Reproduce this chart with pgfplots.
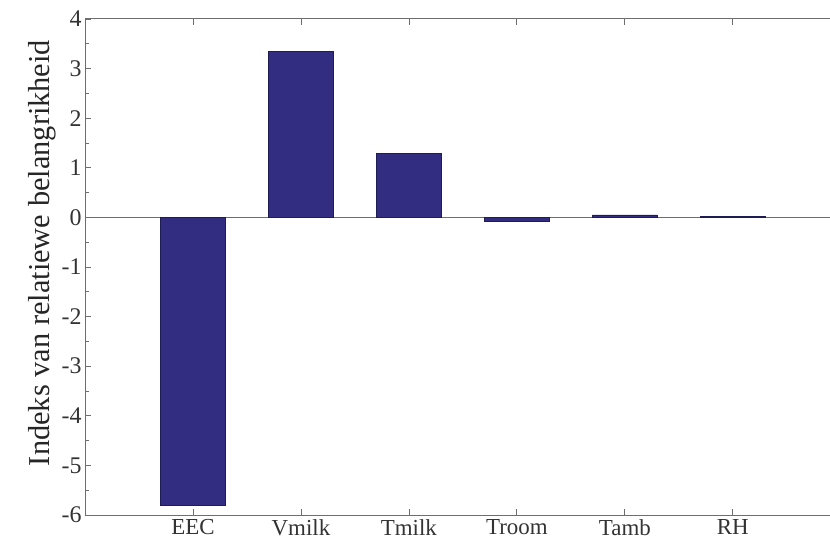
\documentclass[border=0pt]{standalone}
\usepackage{pgfplots}
\pgfplotsset{compat=1.18}
\usepackage{fontspec}
\setmainfont{Liberation Serif}
\usetikzlibrary{calc}
\definecolor{barblue}{RGB}{51,45,130}
\definecolor{bardark}{RGB}{30,28,85}
\definecolor{axgray}{RGB}{110,110,110}
\begin{document}
\begin{tikzpicture}
\begin{axis}[
  name=ax,
  scale only axis,
  width=745bp, height=496bp,
  xmin=0, xmax=6.9,
  ymin=-6, ymax=4,
  axis x line=box,
  axis y line*=left,
  axis line style={axgray, line width=1pt},
  xtick={1,2,3,4,5,6},
  xticklabels={EEC,Vmilk,Tmilk,Troom,Tamb,RH},
  ytick={-6,-5,-4,-3,-2,-1,0,1,2,3,4},
  minor y tick num=1,
  tick align=inside,
  tick style={axgray, line width=0.8pt},
  major tick length=6bp,
  minor tick length=4bp,
  x tick label style={font=\fontsize{23}{25}\selectfont, text=black!80, yshift=-1bp},
  y tick label style={font=\fontsize{24}{26}\selectfont, text=black!80, xshift=0bp},
  /pgf/number format/assume math mode=true,
  ylabel={Indeks van relatiewe belangrikheid},
  ylabel style={font=\fontsize{30.5}{32}\selectfont, text=black!85, yshift=-1bp, xshift=14bp},
  extra y ticks={0},
  extra y tick labels={},
  extra y tick style={grid=major, major grid style={axgray, line width=1pt}, major tick length=0pt},
  clip=false,
]
\addplot[ybar, bar width=0.6, fill=barblue, draw=bardark, line width=0.5pt] coordinates {
  (1,-5.81) (2,3.35) (3,1.29) (4,-0.08) (5,0.05) (6,0.02)
};
\end{axis}
\pgfresetboundingbox
\path ($(ax.south west)+(-85bp,-31bp)$) rectangle ($(ax.north east)+(0bp,19bp)$);
\end{tikzpicture}
\end{document}
